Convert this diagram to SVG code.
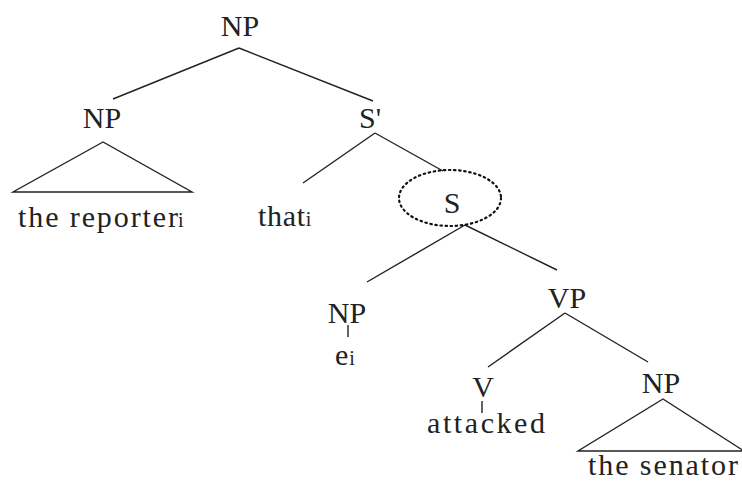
<svg xmlns="http://www.w3.org/2000/svg" width="742" height="482" viewBox="0 0 742 482">
<style>
text{font-family:'Liberation Serif',serif;font-size:30px;fill:#222;}
.sub{font-size:20px;}
line,polygon{stroke:#222;stroke-width:1.4;fill:none;}
.ell{fill:none;stroke:#111;stroke-width:2.2;stroke-dasharray:1.5 3.6;stroke-linecap:round;}
</style>
<rect width="742" height="482" fill="#fff"/>
<g id="connectors">
<line x1="239" y1="48" x2="113" y2="99"/>
<line x1="239" y1="48" x2="373" y2="101"/>
<polygon points="103,142 13,192 192,192"/>
<line x1="375" y1="133" x2="303" y2="183"/>
<line x1="375" y1="133" x2="443" y2="171"/>
<line x1="465" y1="225" x2="367" y2="282"/>
<line x1="465" y1="225" x2="557" y2="270"/>
<line x1="348" y1="325" x2="348" y2="337"/>
<line x1="565" y1="313" x2="488" y2="367"/>
<line x1="565" y1="313" x2="648" y2="362"/>
<line x1="482" y1="401" x2="482" y2="413"/>
<polygon points="663,399 578,451 744,451"/>
</g>
<g id="np-root"><text x="240" y="36" text-anchor="middle">NP</text></g>
<g id="np-left"><text x="102" y="128" text-anchor="middle">NP</text></g>
<g id="the-reporter"><text x="18" y="227"><tspan textLength="160" lengthAdjust="spacing">the reporter</tspan><tspan class="sub" dx="-2">i</tspan></text></g>
<g id="s-bar"><text x="370" y="128" text-anchor="middle">S'</text></g>
<g id="that"><text x="258" y="226"><tspan textLength="47" lengthAdjust="spacing">that</tspan><tspan class="sub" dx="0">i</tspan></text></g>
<g id="s"><ellipse class="ell" cx="450" cy="198" rx="51" ry="28"/><text x="452" y="213" text-anchor="middle">S</text></g>
<g id="np-subj"><text x="347" y="323" text-anchor="middle">NP</text></g>
<g id="e"><text x="335" y="365">e<tspan class="sub" dx="1">i</tspan></text></g>
<g id="vp"><text x="567" y="308" text-anchor="middle">VP</text></g>
<g id="v"><text x="483" y="397" text-anchor="middle">V</text></g>
<g id="attacked"><text x="427" y="433" textLength="118" lengthAdjust="spacing">attacked</text></g>
<g id="np-obj"><text x="661" y="393" text-anchor="middle">NP</text></g>
<g id="the-senator"><text x="588" y="475" textLength="150" lengthAdjust="spacing">the senator</text></g>
</svg>
